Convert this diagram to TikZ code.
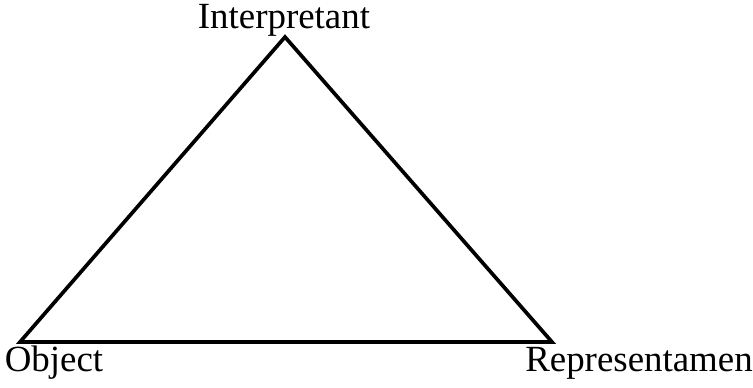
\documentclass[tikz,border=0pt]{standalone}
\usepackage{fontspec}
\setmainfont{Liberation Serif}
\begin{document}
\begin{tikzpicture}[x=0.02cm,y=0.02cm,font=\fontsize{21}{24}\selectfont,
  label/.style={inner sep=0pt,anchor=base}]
\useasboundingbox (0,0) rectangle (753,388);
\coordinate (interp) at (285,351);
\coordinate (obj) at (20,46);
\coordinate (repr) at (552,46);
\draw[line width=2.1pt,line join=miter] (interp) -- (obj) -- (repr) -- cycle;
\node[label] (interplabel) at (284,359) {Interpretant};
\node[label] (objlabel) at (54,16) {Object};
\node[label] (reprlabel) at (639,16) {Representamen};
\end{tikzpicture}
\end{document}
